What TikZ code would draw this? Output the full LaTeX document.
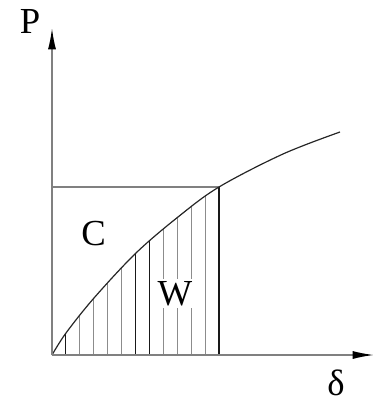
\documentclass[tikz,border=0pt]{standalone}
\usepackage{fontspec}
\setmainfont{Liberation Serif}
\usetikzlibrary{arrows.meta}
\begin{document}
\begin{tikzpicture}[x=0.75pt,y=-0.75pt,
  axis/.style={draw=black!50, line width=1.1pt, -{Latex[length=16pt,width=6pt,color=black]}},
  guide/.style={draw=black!50, line width=0.9pt},
  curve/.style={draw=black!85, line width=0.9pt},
  hatchlight/.style={draw=black!45, line width=0.8pt},
  hatchdark/.style={draw=black!90, line width=0.8pt},
  lbl/.style={inner sep=0pt, font=\fontsize{27.5}{30}\selectfont}]
\useasboundingbox (0,0) rectangle (375,402);
\coordinate (O) at (52,355);
\coordinate (Ptip) at (52,28);
\coordinate (Dtip) at (374,355);
\coordinate (K) at (219,187);
\coordinate (Ky) at (52,187);
\coordinate (Kx) at (219,355);
\def\curvepts{(52,355) (66,333) (94,298) (136,253) (178,217) (219,187) (283,154) (340,132)}
% hatching under the curve
\begin{scope}
  \clip plot[smooth, tension=0.55] coordinates {\curvepts} -- (340,355) -- cycle;
  \foreach \k in {1,...,11}{
    \pgfmathsetmacro{\xx}{52+13.917*\k}
    \ifnum\k=1 \def\hs{hatchdark}\else\ifnum\k=6 \def\hs{hatchdark}\else\ifnum\k=7 \def\hs{hatchdark}\else\def\hs{hatchlight}\fi\fi\fi
    \draw[\hs] (\xx,356) -- (\xx,170);
  }
\end{scope}
\draw[hatchdark] (K) -- (Kx);
\draw[guide] (Ky) -- (K);
\draw[curve] plot[smooth, tension=0.55] coordinates {\curvepts};
\draw[axis] (O) -- (Ptip);
\draw[axis] (O) -- (Dtip);
\node[lbl] (P) at (30,22) {P};
\node[lbl] (C) at (93.5,234) {C};
\node[lbl, fill=white, inner sep=1.5pt] (W) at (175,293.5) {W};
\node[lbl] (d) at (336,383) {δ};
\end{tikzpicture}
\end{document}
